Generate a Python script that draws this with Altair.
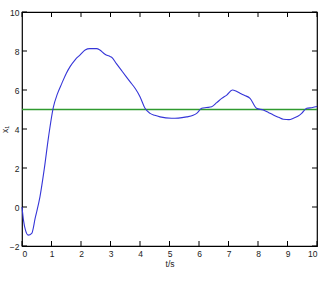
import altair as alt
import pandas as pd

t_vals = [0.0, 0.05, 0.12, 0.21, 0.33, 0.45, 0.61, 0.75, 0.9, 1.06, 1.2, 1.35, 1.5, 1.63, 1.8, 1.97, 2.14, 2.3, 2.53, 2.64, 2.8, 2.98, 3.04, 3.2, 3.4, 3.66, 3.85, 4.0, 4.17, 4.34, 4.5, 4.68, 5.07, 5.3, 5.58, 5.8, 5.92, 6.09, 6.25, 6.43, 6.6, 6.77, 6.94, 7.13, 7.25, 7.39, 7.55, 7.73, 7.95, 8.18, 8.35, 8.52, 8.7, 8.86, 9.05, 9.2, 9.35, 9.48, 9.65, 9.85, 10.0]
x1_vals = [0.0, -0.67, -1.2, -1.44, -1.35, -0.55, 0.53, 1.9, 3.6, 5.1, 5.8, 6.34, 6.85, 7.2, 7.55, 7.8, 8.05, 8.12, 8.12, 8.05, 7.85, 7.72, 7.68, 7.35, 6.95, 6.43, 6.05, 5.66, 5.06, 4.8, 4.7, 4.62, 4.55, 4.56, 4.62, 4.7, 4.8, 5.06, 5.1, 5.14, 5.35, 5.57, 5.74, 6.0, 5.95, 5.83, 5.72, 5.57, 5.06, 4.97, 4.85, 4.72, 4.6, 4.5, 4.48, 4.55, 4.65, 4.8, 5.06, 5.1, 5.15]
ref_t = [0, 10]
ref_val = [5, 5]
x_ticks = list(range(0, 11))
y_ticks = [-2, 0, 2, 4, 6, 8, 10]

df = pd.DataFrame({"t": t_vals, "x1": x1_vals})
ref = pd.DataFrame({"t": ref_t, "x1": ref_val})
xt = pd.DataFrame({"t": x_ticks})
yt = pd.DataFrame({"x1": y_ticks})

FONT = "Liberation Sans"
xs = alt.Scale(domain=[0, 10], nice=False, zero=False)
ys = alt.Scale(domain=[-2, 10], nice=False, zero=False)

xaxis = alt.Axis(
    values=x_ticks, title="t/s", ticks=False, domain=False, grid=False,
    labelFont=FONT, labelFontSize=8.5, labelColor="#222222", labelPadding=3,
    titleFont=FONT, titleFontSize=8.5, titleFontWeight="normal", titleColor="#222222", titlePadding=2)
yaxis = alt.Axis(
    values=y_ticks, title="x₁", ticks=False, domain=False, grid=False,
    labelFont=FONT, labelFontSize=8.5, labelColor="#222222", labelPadding=3,
    titleFont=FONT, titleFontSize=8.5, titleFontWeight="normal", titleColor="#222222", titlePadding=0)

XN = alt.X("t:Q", scale=xs, axis=None)
YN = alt.Y("x1:Q", scale=ys, axis=None)

# Inward tick marks at the axis tick values, positioned by the shared scales
tick_style = dict(color="#000000", thickness=1, size=5, opacity=1)
xb = alt.Chart(xt).mark_tick(orient="vertical", **tick_style).encode(x=XN, y=alt.value(231.5))
xtop = alt.Chart(xt).mark_tick(orient="vertical", **tick_style).encode(x=XN, y=alt.value(2.5))
yl = alt.Chart(yt).mark_tick(orient="horizontal", **tick_style).encode(y=YN, x=alt.value(2.5))
yr = alt.Chart(yt).mark_tick(orient="horizontal", **tick_style).encode(y=YN, x=alt.value(292.5))

refline = alt.Chart(ref).mark_line(color="#2f9a2f", strokeWidth=1.3).encode(x=XN, y=YN)
line = alt.Chart(df).mark_line(color="#3535d8", strokeWidth=1.1, interpolate="monotone").encode(
    x=alt.X("t:Q", scale=xs, axis=xaxis), y=alt.Y("x1:Q", scale=ys, axis=yaxis))

chart = alt.layer(xb, xtop, yl, yr, refline, line).resolve_axis(
    x="independent", y="independent"
).properties(
    width=295, height=234,
    autosize=alt.AutoSizeParams(type="none"),
    padding={"left": 22, "top": 12, "right": 10, "bottom": 42},
    background="white",
).configure_view(stroke="black", strokeWidth=1.2)

chart.save("out.html", embed_options={"renderer": "svg", "actions": False})
